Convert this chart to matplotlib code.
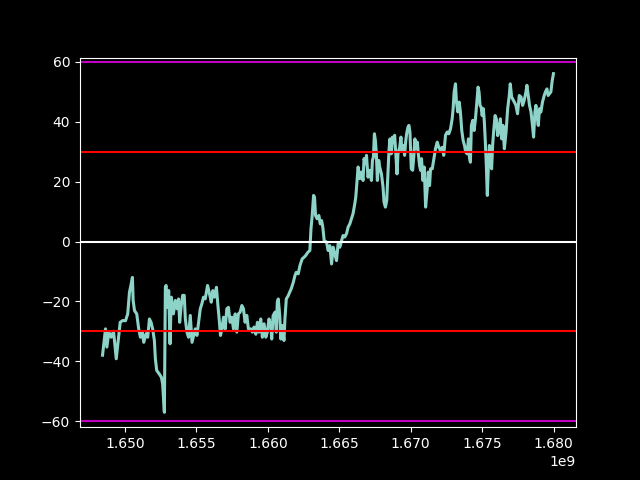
import numpy as np
import matplotlib
matplotlib.use("Agg")
import matplotlib.pyplot as plt

START_TS = 1648425600  # 2022-03-28 UTC
days = [0, 1.6, 2.4, 3.5, 5.1, 7.0, 8.9, 11.1, 12.4, 14.3, 16.4, 18.6, 20.4, 21.8, 23.2, 24.2, 24.8, 25.9,
        27.7, 29.3, 30.7, 32.1, 33.4, 35.3, 36.6, 38.0, 39.3, 40.6, 42.0, 42.8, 43.9, 46.0, 47.7, 48.7,
        50.1, 50.9, 51.5, 52.8, 53.6, 54.7, 55.7, 57.4, 59.0, 60.4, 61.6, 62.5, 63.6, 64.9, 66.2, 67.1,
        68.4, 69.7, 71.1, 72.5, 73.8, 75.1, 76.5, 77.8, 79.2, 80.5, 81.8, 83.2, 85.1, 86.7, 88.1, 89.4,
        90.7, 92.3, 93.5, 94.5, 95.6, 96.7, 98.0, 99.4, 100.7, 102.0, 103.4, 104.8, 106.1, 107.5, 108.8,
        110.1, 111.5, 112.9, 114.2, 115.5, 116.9, 118.2, 120.1, 121.4, 122.8, 124.2, 125.5, 126.8, 128.2,
        129.5, 130.9, 132.3, 133.5, 134.9, 136.3, 137.1, 138.2, 139.8, 140.8, 141.6, 142.4, 143.6, 144.4,
        145.7, 147.0, 147.8, 148.9, 150.5, 151.6, 152.9, 154.6, 155.9, 157.0, 158.6, 160.0, 161.8, 163.2,
        164.6, 166.4, 168.0, 168.9, 169.9, 171.0, 171.8, 172.6, 173.9, 175.3, 176.4, 177.5, 178.5, 179.6,
        181.5, 182.8, 184.2, 185.6, 186.9, 188.2, 189.6, 190.9, 192.3, 193.7, 194.9, 196.3, 197.7, 199.0,
        200.4, 201.7, 203.0, 204.4, 205.2, 206.3, 207.1, 208.4, 209.8, 211.1, 211.9, 213.0, 213.9, 215.1,
        216.5, 217.9, 218.7, 219.5, 220.3, 221.1, 221.9, 222.7, 223.8, 224.6, 226.0, 227.3, 228.1, 229.2,
        230.3, 231.3, 232.1, 232.9, 234.0, 234.9, 235.9, 236.7, 237.5, 238.6, 239.4, 240.8, 241.8, 242.6,
        243.7, 244.8, 245.6, 246.4, 247.5, 248.3, 249.1, 250.2, 251.3, 252.3, 253.1, 254.2, 255.1, 255.9,
        256.9, 257.7, 258.5, 259.6, 260.7, 261.8, 263.1, 263.9, 265.0, 265.8, 267.2, 268.5, 269.8, 271.2,
        272.5, 273.9, 275.2, 276.5, 277.9, 279.3, 280.6, 282.0, 283.3, 284.1, 284.9, 286.0, 286.8, 287.9,
        289.0, 290.0, 291.1, 292.2, 293.3, 294.3, 295.4, 296.5, 297.3, 298.1, 298.9, 300.0, 301.1, 302.2,
        303.2, 304.3, 305.1, 305.9, 306.8, 307.6, 308.6, 309.4, 310.2, 311.0, 311.8, 312.7, 313.5, 314.3,
        315.3, 316.1, 316.9, 318.1, 319.1, 320.2, 321.3, 322.4, 323.4, 324.5, 325.6, 327.0, 328.3, 329.6,
        330.4, 331.5, 332.3, 333.7, 335.0, 336.3, 337.7, 339.1, 340.4, 341.7, 343.1, 343.9, 345.0, 346.0,
        347.2, 348.4, 349.3, 350.4, 351.2, 352.0, 353.1, 354.1, 355.2, 356.5, 357.9, 358.9, 360.1, 361.1,
        362.2, 363.3, 364.4, 365.4]
values = [-38, -32, -29.2, -35.3, -30.3, -32, -30, -39.2, -34.2, -27, -26.4, -26.5, -24.2, -17, -14.2, -12, -19.7, -23.1,
          -24.2, -29.2, -32, -30.3, -33.7, -30.8, -32, -25.9, -27, -29.2, -33.1, -39.2, -43.1, -44.3, -45.4, -47.6,
          -57.1, -15.3, -14.7, -22, -16.4, -34.2, -18.6, -24.2, -19.7, -22.5, -19.2, -27, -22, -18, -18, -25.9,
          -30.3, -32, -24.7, -33.7, -31.4, -29.2, -31.4, -27, -22.5, -20.8, -18.6, -19.2, -14.7, -17.5, -20.3, -16.4,
          -18.6, -15.3, -21.4, -25.9, -31.4, -29.2, -25.3, -29.2, -22.5, -22, -27, -25.3, -29.2, -24.2, -30.3,
          -24.2, -23.6, -21.4, -22.5, -27, -24.7, -29.2, -29.2, -30.3, -28.6, -31, -27, -30.3, -25.9,
          -32, -27.5, -32, -30.3, -25.9, -28.1, -32.6, -24.8, -23.6, -30.3, -20.3, -19.2, -24.8, -32.6,
          -28.1, -33.1, -25.9, -19.2, -18.1, -17, -15.8, -13.6, -11.4, -10.3, -10.8, -8, -5.8, -5.3,
          -4.7, -3.6, -3, 4.2, 8.7, 15.4, 14.8, 8.7, 7.6, 8.7, 5.9, 7, 4.8, 0.3,
          -0.2, -3, -1.4, -7.5, -1.9, -4.1, -6.4, -0.8, -1.9, 0.3, 2, 1.5, 2.6, 4.8,
          5.9, 7.6, 9.3, 12.6, 14.8, 20.4, 24.9, 21, 23.2, 20.4, 27.7, 26, 28.8, 21.5,
          23.8, 20.4, 27.1, 28.2, 36, 33.8, 29.3, 20.4, 27.1, 24.9, 22.6, 18.2, 13.2, 11.5,
          13.7, 22.6, 30.4, 34.3, 29.3, 34.9, 33.2, 35.5, 30.4, 22.6, 29.3, 31.5, 34.9, 30.5,
          32.1, 28.8, 33.2, 36, 38.2, 38.8, 36.6, 24.3, 23.8, 28.8, 34.3, 31, 33.2, 29.3,
          25.4, 23.8, 27.7, 20.4, 24.9, 11.5, 17.6, 23.2, 18.7, 24.3, 24.3, 27.7, 31, 33.2,
          31.5, 30.4, 31.5, 28.8, 35.5, 36.6, 36, 37.7, 41, 44.4, 49.9, 52.7, 46.6, 43.3,
          46.6, 43.3, 37.1, 33.8, 32.1, 29.9, 29.3, 34.3, 28.2, 26.5, 38.8, 40.5, 37.1, 41,
          46, 51.6, 50, 45.5, 44.9, 42.1, 44.4, 39.9, 33.2, 25.4, 15.4, 25.4, 32.1, 27.1,
          24.3, 32.1, 36.6, 42.1, 41, 35.4, 37.7, 41, 34.3, 38.8, 31, 36.6, 44.4, 48.8,
          52.7, 48.3, 47.7, 46.6, 45.5, 42.7, 48.8, 48.3, 45.5, 47.2, 50, 52.2, 48.8, 45.5,
          43.3, 38.8, 34.9, 43.3, 45.5, 42.1, 38.8, 44.4, 43.3, 46.6, 48.8, 50, 51, 48.8,
          49.4, 50, 53.8, 56.1]

hline_levels = [0, 30, -30, 60, -60]
hline_colors = ["white", "red", "red", "m", "m"]

plt.style.use("dark_background")
fig, ax = plt.subplots(figsize=(6.4, 4.8), dpi=100)

t = START_TS + np.array(days) * 86400.0
ax.plot(t, values, color="#8dd3c7", linewidth=2.2)
for lvl, col in zip(hline_levels, hline_colors):
    ax.axhline(lvl, color=col)
ax.set_ylim(-62.07, 61.47)

fig.savefig("out.png", dpi=100)
